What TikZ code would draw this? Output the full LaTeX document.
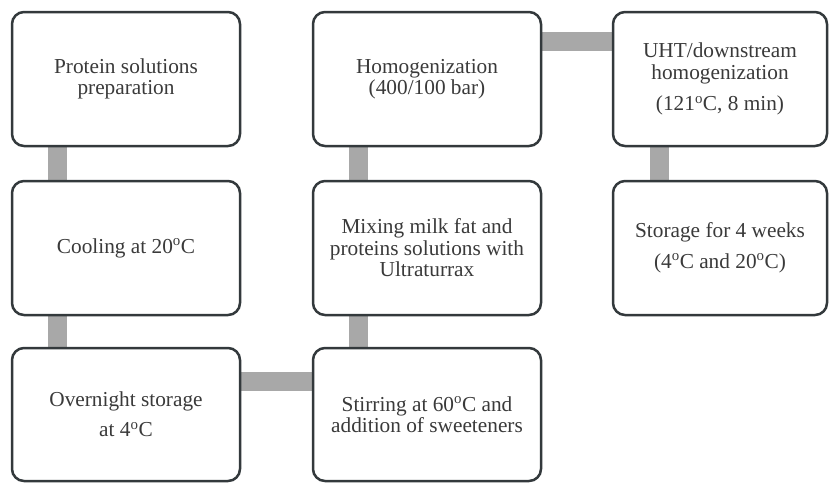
\documentclass[tikz,border=0pt]{standalone}
\usepackage{fontspec}
\setmainfont{Liberation Serif}
\usetikzlibrary{backgrounds}
\definecolor{boxline}{HTML}{33393C}
\definecolor{conncol}{HTML}{A8A8A8}
\definecolor{txtcol}{HTML}{3A3A3A}
\newcommand{\dg}{\textsuperscript{o}}
\tikzset{
  stepbox/.style={draw=boxline, line width=2.5pt, rounded corners=12pt, fill=white,
    minimum width=228pt, minimum height=134pt, inner sep=0pt, align=center,
    text=txtcol, font=\fontsize{21.3}{21.5}\selectfont},
  conn/.style={draw=conncol, line width=19pt}
}
\begin{document}
\begin{tikzpicture}[x=1pt,y=-1pt]
\useasboundingbox (0,0) rectangle (829,482);
\node[stepbox] (a) at (126,79) {Protein solutions\\preparation};
\node[stepbox] (b) at (126,248) {Cooling at 20\dg C};
\node[stepbox, minimum height=133pt] (c) at (126,414.5) {Overnight storage\\[8.5pt]at 4\dg C};
\node[stepbox, minimum height=133pt] (d) at (427,414.5) {Stirring at 60\dg C and\\addition of sweeteners};
\node[stepbox] (e) at (427,248) {Mixing milk fat and\\proteins solutions with\\Ultraturrax};
\node[stepbox] (f) at (427,79) {Homogenization\\(400/100 bar)};
\node[stepbox, minimum width=214pt] (g) at (720,79) {UHT/downstream\\homogenization\\[10pt](121\dg C, 8 min)};
\node[stepbox, minimum width=214pt] (h) at (720,248) {Storage for 4 weeks\\[9pt](4\dg C and 20\dg C)};
\begin{scope}[on background layer]
\draw[conn] ([xshift=46.5pt]a.south west) -- ([xshift=46.5pt]b.north west);
\draw[conn] ([xshift=46.5pt]b.south west) -- ([xshift=46.5pt]c.north west);
\draw[conn] ([yshift=-35pt]c.north east) -- ([yshift=-35pt]d.north west);
\draw[conn] ([xshift=47pt]d.north west) -- ([xshift=47pt]e.south west);
\draw[conn] ([xshift=47pt]e.north west) -- ([xshift=47pt]f.south west);
\draw[conn] ([yshift=-31pt]f.north east) -- ([yshift=-31pt]g.north west);
\draw[conn] ([xshift=47.5pt]g.south west) -- ([xshift=47.5pt]h.north west);
\end{scope}
\end{tikzpicture}
\end{document}
